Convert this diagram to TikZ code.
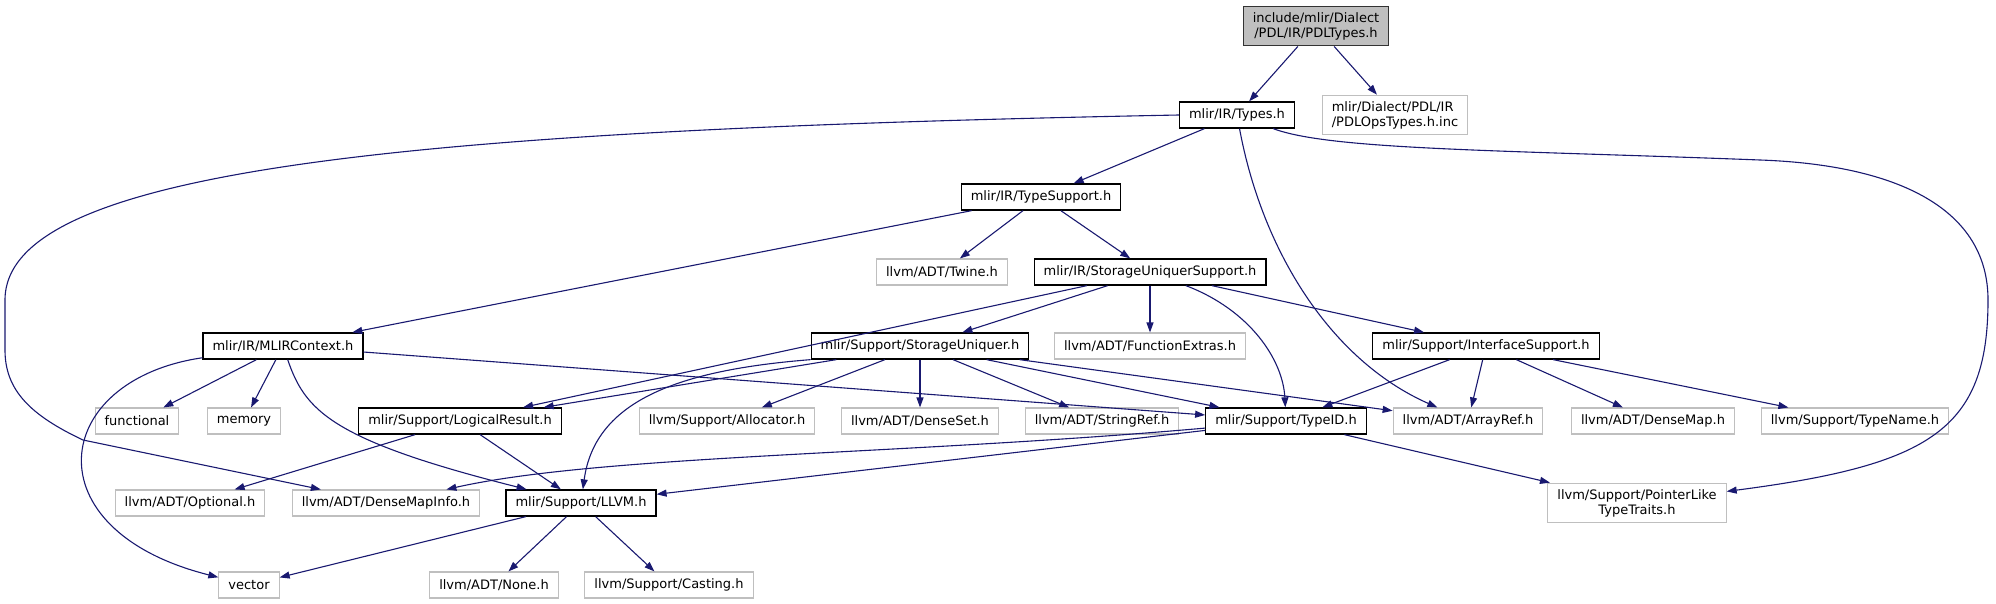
\documentclass[tikz,border=0pt]{standalone}
\usepackage{fontspec}
\setmainfont{DejaVu Sans}
\usetikzlibrary{arrows.meta}

\definecolor{edgeblue}{HTML}{191970}
\definecolor{extgray}{HTML}{BFBFBF}

\begin{document}
\begin{tikzpicture}[x=1pt, y=-1pt,
        file/.style={rectangle, draw=black, line width=1.3pt, fill=white, font=\fontsize{13}{15}\selectfont, inner xsep=9.5pt, inner ysep=6pt, minimum height=26pt},
        extfile/.style={file, draw=extgray, line width=1.1pt},
        rootfile/.style={file, fill=extgray, draw=black!80},
        dep/.style={->, draw=edgeblue, line width=1.1pt},
        >={Triangle[length=10pt, width=7pt]}]

        \useasboundingbox (0, 0) rectangle (1996, 604);

        % Define nodes (boxes)

        \node (root) at ( 1316, 26 ) [rootfile, align=center] {include/mlir/Dialect\\/PDL/IR/PDLTypes.h};

        \node (types) at ( 1237, 115 ) [file] {mlir/IR/Types.h};
        \node (opstypes) at ( 1395, 115 ) [extfile, align=left] {mlir/Dialect/PDL/IR\\/PDLOpsTypes.h.inc};

        \node (typesupport) at ( 1041, 197 ) [file] {mlir/IR/TypeSupport.h};

        \node (twine) at ( 942, 272 ) [extfile] {llvm/ADT/Twine.h};
        \node (storagesupport) at ( 1150, 272 ) [file] {mlir/IR/StorageUniquerSupport.h};

        \node (mlirctx) at ( 283, 346 ) [file] {mlir/IR/MLIRContext.h};
        \node (uniquer) at ( 920, 346 ) [file] {mlir/Support/StorageUniquer.h};
        \node (funcextras) at ( 1150, 346 ) [extfile] {llvm/ADT/FunctionExtras.h};
        \node (iface) at ( 1486, 346 ) [file] {mlir/Support/InterfaceSupport.h};

        \node (functional) at ( 137, 421 ) [extfile] {functional};
        \node (memory) at ( 244, 421 ) [extfile] {memory};
        \node (logical) at ( 460, 421 ) [file] {mlir/Support/LogicalResult.h};
        \node (allocator) at ( 727, 421 ) [extfile] {llvm/Support/Allocator.h};
        \node (denseset) at ( 920, 421 ) [extfile] {llvm/ADT/DenseSet.h};
        \node (stringref) at ( 1102, 421 ) [extfile] {llvm/ADT/StringRef.h};
        \node (typeid) at ( 1286, 421 ) [file] {mlir/Support/TypeID.h};
        \node (arrayref) at ( 1468, 421 ) [extfile] {llvm/ADT/ArrayRef.h};
        \node (densemap) at ( 1653, 421 ) [extfile] {llvm/ADT/DenseMap.h};
        \node (typename) at ( 1855, 421 ) [extfile] {llvm/Support/TypeName.h};

        \node (optional) at ( 190, 503 ) [extfile] {llvm/ADT/Optional.h};
        \node (densemapinfo) at ( 386, 503 ) [extfile] {llvm/ADT/DenseMapInfo.h};
        \node (llvm) at ( 581, 503 ) [file] {mlir/Support/LLVM.h};
        \node (ptrlike) at ( 1637, 503 ) [extfile, align=center] {llvm/Support/PointerLike\\TypeTraits.h};

        \node (vector) at ( 249, 585 ) [extfile] {vector};
        \node (none) at ( 494, 585 ) [extfile] {llvm/ADT/None.h};
        \node (casting) at ( 669, 585 ) [extfile] {llvm/Support/Casting.h};

        % Draw arrows between nodes

        \draw[dep] (root) -- (types);
        \draw[dep] (root) -- (opstypes);

        \draw[dep] (types) -- (typesupport);
        \draw[dep] (types) .. controls (1262, 250) and (1330, 360) .. (arrayref);
        \draw[dep] (types.west) .. controls (400, 130) and (5, 170) .. (5, 300) -- (5, 350) .. controls (5, 390) and (30, 415) .. (83, 440) -- (densemapinfo);
        \draw[dep] (types) .. controls (1330, 150) and (1500, 150) .. (1760, 160) .. controls (1900, 165) and (1988, 210) .. (1988, 300) .. controls (1988, 430) and (1930, 465) .. (ptrlike);

        \draw[dep] (typesupport) -- (mlirctx);
        \draw[dep] (typesupport) -- (twine);
        \draw[dep] (typesupport) -- (storagesupport);

        \draw[dep] (storagesupport) -- (logical);
        \draw[dep] (storagesupport) -- (uniquer);
        \draw[dep] (storagesupport) -- (funcextras);
        \draw[dep] (storagesupport) .. controls (1250, 310) and (1283, 360) .. (typeid);
        \draw[dep] (storagesupport) -- (iface);

        \draw[dep] (mlirctx) -- (functional);
        \draw[dep] (mlirctx) -- (memory);
        \draw[dep] (mlirctx) .. controls (50, 380) and (30, 530) .. (vector);
        \draw[dep] (mlirctx) .. controls (305, 410) and (330, 440) .. (llvm);
        \draw[dep] (mlirctx) -- (typeid);

        \draw[dep] (uniquer) -- (logical);
        \draw[dep] (uniquer.south west) .. controls (680, 370) and (595, 400) .. (llvm);
        \draw[dep] (uniquer) -- (allocator);
        \draw[dep] (uniquer) -- (denseset);
        \draw[dep] (uniquer) -- (stringref);
        \draw[dep] (uniquer) -- (typeid);
        \draw[dep] (uniquer) -- (arrayref);

        \draw[dep] (iface) -- (typeid);
        \draw[dep] (iface) -- (arrayref);
        \draw[dep] (iface) -- (densemap);
        \draw[dep] (iface) -- (typename);

        \draw[dep] (logical) -- (optional);
        \draw[dep] (logical) -- (llvm);

        \draw[dep] (typeid) .. controls (900, 455) and (600, 455) .. (densemapinfo);
        \draw[dep] (typeid) -- (llvm);
        \draw[dep] (typeid) -- (ptrlike);

        \draw[dep] (llvm) -- (vector);
        \draw[dep] (llvm) -- (none);
        \draw[dep] (llvm) -- (casting);

    \end{tikzpicture}
\end{document}
